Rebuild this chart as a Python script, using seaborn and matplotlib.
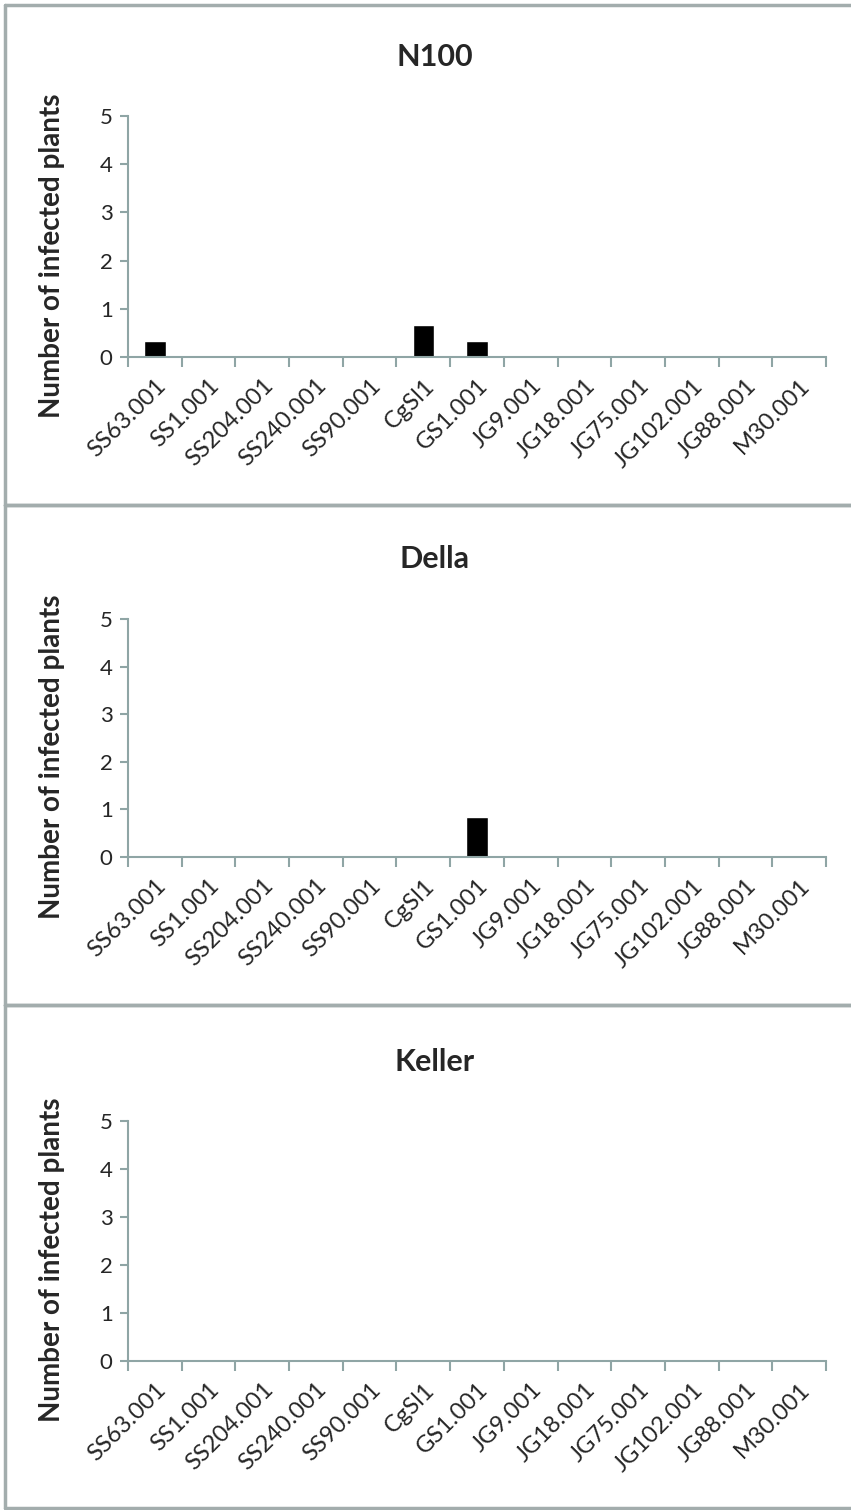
import matplotlib
matplotlib.use("Agg")
import matplotlib.pyplot as plt
from matplotlib.lines import Line2D
from matplotlib.ticker import FixedLocator
import seaborn as sns
import pandas as pd

# isolates on the x axis
isolates = ["SS63.001", "SS1.001", "SS204.001", "SS240.001", "SS90.001", "CgSl1",
            "GS1.001", "JG9.001", "JG18.001", "JG75.001", "JG102.001", "JG88.001", "M30.001"]

# number of infected plants per cultivar
n100 = [0.33, 0, 0, 0, 0, 0.67, 0.33, 0, 0, 0, 0, 0, 0]
della = [0, 0, 0, 0, 0, 0, 0.83, 0, 0, 0, 0, 0, 0]
keller = [0, 0, 0, 0, 0, 0, 0, 0, 0, 0, 0, 0, 0]

cultivars = ["N100", "Della", "Keller"]
yticks = [0, 1, 2, 3, 4, 5]

sns.set_style("white")
plt.rcParams["font.family"] = ["Lato", "DejaVu Sans"]

axis_col = "#8fa5a5"
frame_col = "#a3adad"

W, H = 851, 1510
fig = plt.figure(figsize=(W / 100, H / 100), dpi=100)

# pixel positions of each panel (top of axes, zero line, panel top/bottom)
panels = [
    dict(top=116, bottom=357, ptop=5, pbot=505, title_y=57),
    dict(top=619, bottom=857, ptop=505, pbot=1005, title_y=559),
    dict(top=1121, bottom=1361, ptop=1005, pbot=1508, title_y=1062),
]
left, right = 128, 826

for name, vals, p in zip(cultivars, [n100, della, keller], panels):
    df = pd.DataFrame({"isolate": isolates, "count": vals})
    ax = fig.add_axes([left / W, 1 - p["bottom"] / H, (right - left) / W,
                       (p["bottom"] - p["top"]) / H])
    sns.barplot(data=df, x="isolate", y="count", color="black", width=0.4,
                saturation=1, ax=ax)
    ax.set_xlim(-0.5, len(isolates) - 0.5)
    ax.set_ylim(0, 5)
    ax.set_yticks(yticks)
    ax.tick_params(axis="y", length=6, width=1.5, color=axis_col, labelsize=16, pad=5, left=True)
    ax.set_xticks(range(len(isolates)))
    ax.set_xticklabels(isolates, rotation=45, ha="right", rotation_mode="anchor", fontsize=17)
    ax.tick_params(axis="x", which="major", length=0, pad=13)
    ax.xaxis.set_minor_locator(FixedLocator([i - 0.5 for i in range(len(isolates) + 1)]))
    ax.tick_params(axis="x", which="minor", length=7, width=1.5, color=axis_col, bottom=True)
    for s in ["top", "right"]:
        ax.spines[s].set_visible(False)
    for s in ["left", "bottom"]:
        ax.spines[s].set_color(axis_col)
        ax.spines[s].set_linewidth(1.5)
    ax.set_xlabel("")
    ax.set_ylabel("Number of infected plants", fontsize=20, fontweight="bold")
    ax.yaxis.set_label_coords(-0.09, 0.42)
    fig.text(0.5 + 9 / W, 1 - p["title_y"] / H, name, ha="center", va="center",
             fontsize=22, fontweight="bold")
    # panel frame
    x0, x1 = 5 / W, 1.0
    y0, y1 = 1 - p["pbot"] / H, 1 - p["ptop"] / H
    for xs, ys in [([x0, x1], [y1, y1]), ([x0, x1], [y0, y0]), ([x0, x0], [y0, y1])]:
        fig.add_artist(Line2D(xs, ys, color=frame_col, lw=2.5, transform=fig.transFigure))

fig.savefig("out.png", dpi=100)
